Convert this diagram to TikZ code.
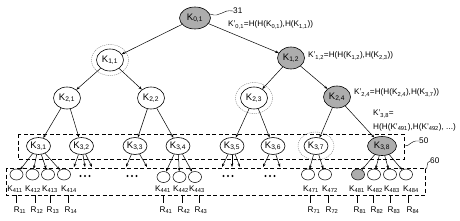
\documentclass[tikz,border=0pt]{standalone}
\usepackage{fontspec}
\setmainfont{Liberation Sans}
\usetikzlibrary{shapes.geometric,arrows.meta}
\newcommand\Ksub[1]{K\textsubscript{#1}}
\newcommand\Kpr[1]{K'\textsubscript{#1}}
\tikzset{
 knode/.style={ellipse,draw,line width=0.6pt,minimum width=27pt,minimum height=22pt,inner sep=0pt,font=\fontsize{9.5}{10}\selectfont},
 kthree/.style={knode,minimum width=24pt,minimum height=17pt},
 leaf/.style={ellipse,draw,line width=0.5pt,minimum width=13pt,minimum height=11pt,inner sep=0pt},
 hot/.style={fill=black!32},
 ring/.style={ellipse,draw=black!50,dash pattern=on 1.2pt off 0.9pt,line width=0.4pt,inner sep=0pt},
 edge/.style={line width=0.5pt,-{Stealth[length=3.5pt,width=2.6pt]}},
 note/.style={font=\fontsize{8.2}{9}\selectfont,anchor=west,inner sep=0pt},
 boxline/.style={draw,line width=1pt,dash pattern=on 4pt off 2.5pt},
 lbl/.style={font=\fontsize{8.2}{9}\selectfont,inner sep=0pt},
 tickline/.style={line width=0.5pt},
 leader/.style={line width=0.4pt},
 dotmark/.style={fill=black}
}
\begin{document}
\begin{tikzpicture}[x=1pt,y=-1pt]
\useasboundingbox (0,0) rectangle (460,220);
% dashed boxes
\draw[boxline] (18,134) rectangle (404,159);
\draw[boxline] (6,168) rectangle (425,195);
% rings
\node[ring,minimum width=37pt,minimum height=31pt] (r11) at (110,60) {};
\node[ring,minimum width=37pt,minimum height=31pt] (r23) at (254,98) {};
\node[ring,minimum width=36pt,minimum height=28pt] (r37) at (316,146) {};
% main nodes
\node[knode,hot,minimum width=31pt] (K01) at (195,18) {\Ksub{0,1}};
\node[knode] (K11) at (110,60) {\Ksub{1,1}};
\node[knode,hot] (K12) at (291,58) {\Ksub{1,2}};
\node[knode] (K21) at (67,98) {\Ksub{2,1}};
\node[knode] (K22) at (151,98) {\Ksub{2,2}};
\node[knode] (K23) at (254,98) {\Ksub{2,3}};
\node[knode,hot] (K24) at (337,97) {\Ksub{2,4}};
\node[kthree] (K31) at (38.5,146) {\Ksub{3,1}};
\node[kthree] (K32) at (81.5,146) {\Ksub{3,2}};
\node[kthree] (K33) at (135,146) {\Ksub{3,3}};
\node[kthree] (K34) at (178,146) {\Ksub{3,4}};
\node[kthree] (K35) at (232,146) {\Ksub{3,5}};
\node[kthree] (K36) at (273,146) {\Ksub{3,6}};
\node[kthree] (K37) at (316,146) {\Ksub{3,7}};
\node[kthree,hot,minimum width=29pt,minimum height=19pt] (K38) at (382,146) {\Ksub{3,8}};
% leaves
\node[leaf] (L411) at (16.5,174.5) {};
\node[leaf] (L412) at (32.5,174.5) {};
\node[leaf] (L413) at (48,174.5) {};
\node[leaf] (L414) at (64,174.5) {};
\node[leaf] (L441) at (163.5,177) {};
\node[leaf] (L442) at (179.5,177) {};
\node[leaf] (L443) at (195,177) {};
\node[leaf] (L471) at (308,174.5) {};
\node[leaf] (L472) at (325,174.5) {};
\node[leaf,hot] (L481) at (358,174.5) {};
\node[leaf] (L482) at (374,174.5) {};
\node[leaf] (L483) at (390,174.5) {};
\node[leaf] (L484) at (406,174.5) {};
% dots
\foreach \cx in {85,132,228,270}{
  \foreach \dx in {-4.5,0,4.5}{\fill[dotmark] (\cx+\dx,176) circle (1.2pt);}
}
% free arrow ends
\coordinate (a321) at (74,167);
\coordinate (a322) at (85,167);
\coordinate (a323) at (92,167);
\coordinate (a331) at (126,167);
\coordinate (a332) at (147,167);
\coordinate (a351) at (222,167);
\coordinate (a352) at (232,167);
\coordinate (a353) at (240,167);
\coordinate (a361) at (263,167);
\coordinate (a362) at (280,167);
% tree edges
\draw[edge] (K01) -- (K11);
\draw[edge] (K01) -- (K12);
\draw[edge] (K11) -- (K21);
\draw[edge] (K11) -- (K22);
\draw[edge] (K12) -- (K23);
\draw[edge] (K12) -- (K24);
\draw[edge] (K21) -- (K31);
\draw[edge] (K21) -- (K32);
\draw[edge] (K22) -- (K33);
\draw[edge] (K22) -- (K34);
\draw[edge] (K23) -- (K35);
\draw[edge] (K23) -- (K36);
\draw[edge] (K24) -- (K37);
\draw[edge] (K24) -- (K38);
\foreach \t in {L411,L412,L413,L414}{\draw[edge] (K31) -- (\t);}
\foreach \t in {a321,a322,a323}{\draw[edge] (K32) -- (\t);}
\foreach \t in {a331,a332}{\draw[edge] (K33) -- (\t);}
\foreach \t in {L441,L442,L443}{\draw[edge] (K34) -- (\t);}
\foreach \t in {a351,a352,a353}{\draw[edge] (K35) -- (\t);}
\foreach \t in {a361,a362}{\draw[edge] (K36) -- (\t);}
\foreach \t in {L471,L472}{\draw[edge] (K37) -- (\t);}
\foreach \t in {L481,L482,L483,L484}{\draw[edge] (K38) -- (\t);}
% annotations
\node[note] (n01) at (228,25) {\Kpr{0,1}=H(H(\Ksub{0,1}),H(\Ksub{1,1}))};
\node[note] (n12) at (308,56) {\Kpr{1,2}=H(H(\Ksub{1,2}),H(\Ksub{2,3}))};
\node[note] (n24) at (354,93) {\Kpr{2,4}=H(H(\Ksub{2,4}),H(\Ksub{3,7}))};
\node[note] (n38a) at (373,114) {\Kpr{3,8}=};
\node[note] (n38b) at (373,127) {H(H(\Kpr{491}),H(\Kpr{492}), ...)};
% reference numerals
\node[lbl,anchor=west] (t31) at (233,11) {31};
\node[lbl,anchor=west] (t50) at (419,141) {50};
\node[lbl,anchor=west] (t60) at (430,161) {60};
\draw[leader] (K01.15) .. controls (221,18) and (222,9) .. (t31.west);
\draw[leader] (404,146) .. controls (410,147) and (410,140) .. (t50.west);
\draw[leader] (425,169) .. controls (429,170) and (425,162) .. (t60.west);
% leaf labels, ticks and R labels
\foreach \nm/\lx/\tx/\rx/\rn in {411/15/16/20/11,412/33/35/37/12,413/50/50/53/13,414/69/68/71/14,
  441/163/163/166/41,442/181/182/184/42,443/197/199/201/43,
  471/311/310/314/71,472/330/328/332/72,
  481/357/357/360/81,482/375/373/377/82,483/392/390/394/83,484/411/408/413/84}{
  \node[lbl] (lab\nm) at (\lx,189) {\Ksub{\nm}};
  \coordinate (tk\nm) at (\tx,195);
  \node[lbl] (R\rn) at (\rx,210) {R\textsubscript{\rn}};
  \draw[tickline] (tk\nm) -- (\tx,203);
}
\end{tikzpicture}
\end{document}
